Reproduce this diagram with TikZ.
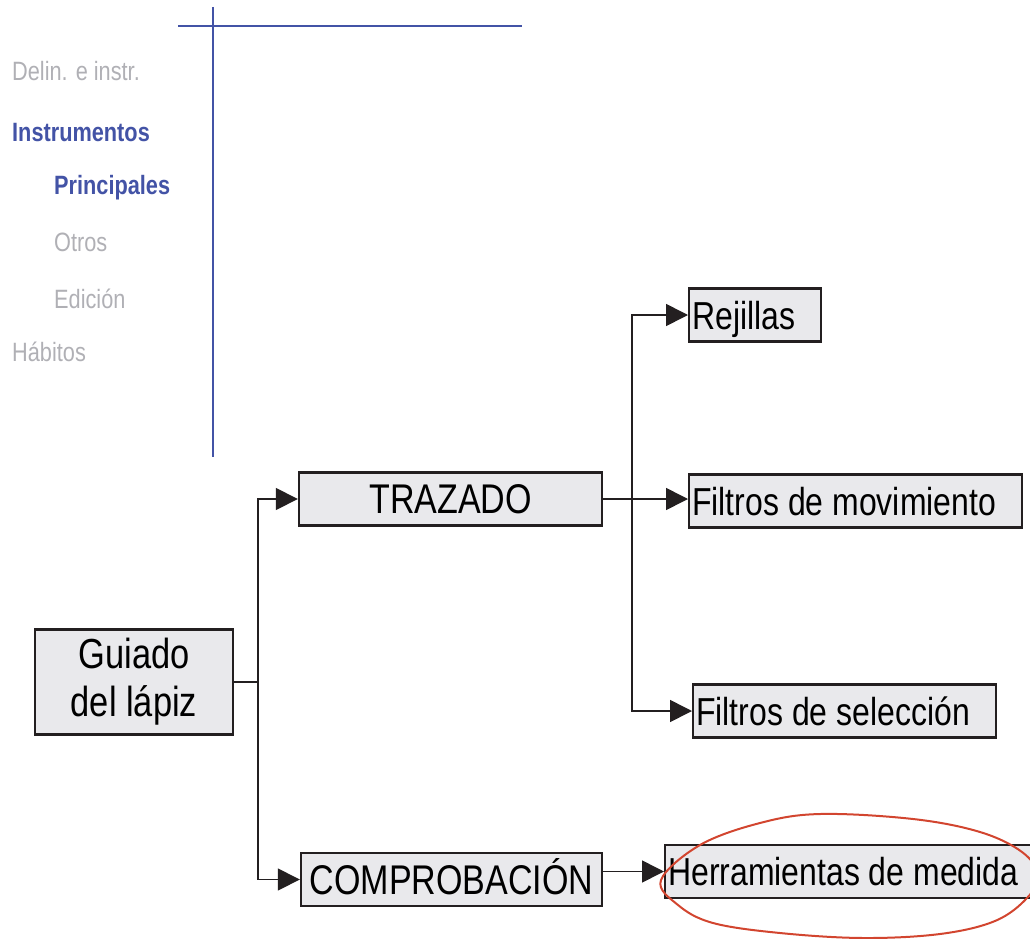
\documentclass[tikz,border=0pt]{standalone}
\usepackage{fontspec}
\setmainfont{Liberation Sans}[FakeStretch=0.82]
\usepackage{tikz}
\usetikzlibrary{arrows.meta}
\definecolor{Slate}{HTML}{4353A6}
\definecolor{Mist}{HTML}{B0B0B5}
\definecolor{BoxFill}{HTML}{E9E9EC}
\definecolor{Ink}{HTML}{231F20}
\definecolor{Marker}{HTML}{D2452F}

\begin{document}
\begin{tikzpicture}[x=1pt, y=-1pt,
    menu/.style={anchor=base west, inner sep=0pt, text=Mist,
        font=\fontsize{26.5}{30}\selectfont},
    menuon/.style={menu, text=Slate, font=\fontsize{26.5}{30}\selectfont\bfseries},
    box/.style={draw=Ink, fill=BoxFill, line width=2.4pt, inner sep=0pt},
    branch/.style={box, minimum height=53pt, text height=29pt, text depth=0pt,
        font=\fontsize{41.5}{46}\selectfont},
    leaf/.style={branch, anchor=west, inner xsep=3pt,
        text height=28pt, font=\fontsize{39}{46}\selectfont},
    link/.style={draw=Ink, line width=1.6pt},
    arr/.style={link, -{Triangle[length=22pt, width=22pt]}}]
\useasboundingbox (0,0) rectangle (1030,939);
\clip (0,0) rectangle (1030,939);

\draw[Slate, line width=1.6pt] (178,26) -- (522,26);
\draw[Slate, line width=1.6pt] (213,7) -- (213,457);

\node[menu]   (delin)  at (12,81)  {Delin. e instr.};
\node[menuon] (instr)  at (12,141) {Instrumentos};
\node[menuon] (princ)  at (54,194) {Principales};
\node[menu]   (otros)  at (54,251) {Otros};
\node[menu]   (edic)   at (54,308) {Edición};
\node[menu]   (habit)  at (12,361) {Hábitos};

\node[box, minimum width=198pt, minimum height=105pt, align=center,
      font=\fontsize{42}{48}\selectfont] (guiado) at (134,682) {Guiado\\del lápiz};
\node[branch, minimum width=303pt] (trazado) at (450.5,499) {TRAZADO};
\node[branch, minimum width=301pt] (comprob) at (451.5,879.5) {COMPROBACIÓN};
\node[leaf] (rejillas) at (688,315)   {\makebox[126pt][l]{Rejillas}};
\node[leaf] (filtmov)  at (688,501)   {\makebox[327pt][l]{Filtros de movimiento}};
\node[leaf] (filtsel)  at (692,711)   {\makebox[297pt][l]{Filtros de selección}};
\node[leaf] (herram)   at (664,871.5) {\makebox[364pt][l]{Herramientas de medida}};

\coordinate (fork)  at (258,682);
\coordinate (split) at (632,499);
\draw[link] (guiado.east) -- (fork);
\draw[arr] (fork) |- (trazado.west);
\draw[arr] (fork) |- (comprob.west);
\draw[arr] (trazado.east) -- (trazado.east -| filtmov.west);
\draw[arr] (split) |- (rejillas.west);
\draw[arr] (split) |- (filtsel.west);
\draw[arr] (comprob.east |- herram.west) -- (herram.west);

\draw[Marker, line width=2pt] plot[smooth cycle, tension=0.6] coordinates {
    (661,880) (700,845) (760,823) (820,814) (913,819) (980,832) (1022,852)
    (1038,875) (1027,898) (995,921) (940,934) (863,938) (780,933) (713,923) (678,905)};
\end{tikzpicture}
\end{document}
